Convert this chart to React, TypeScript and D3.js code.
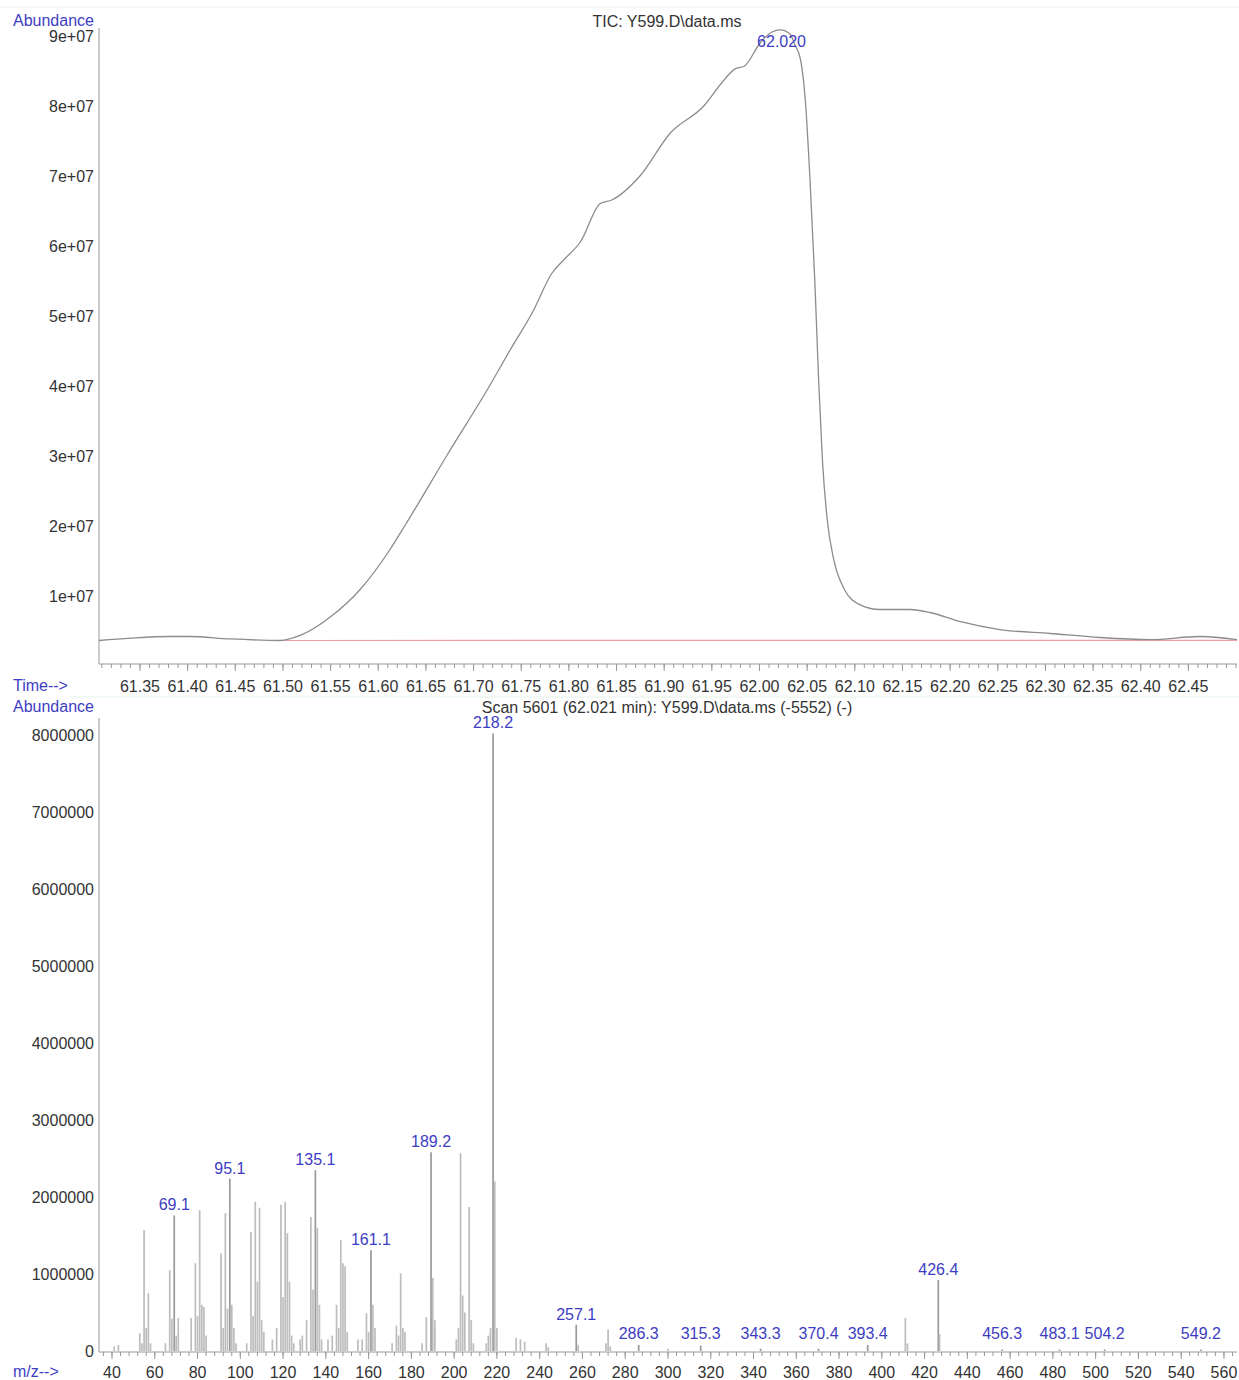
import React, { useEffect, useRef } from 'react';
import * as d3 from 'd3';

const W = 1239;
const H = 1380;
const FONT = 'Liberation Sans, Arial, Helvetica, sans-serif';
const BLUE = '#3d3dc4';
const TXT = '#333';

// TIC trace
const ticTime = [61.307, 61.340, 61.381, 61.402, 61.444, 61.497, 61.518, 61.549, 61.581, 61.612,
    61.628, 61.672, 61.717, 61.738, 61.762, 61.782, 61.795, 61.812, 61.833, 61.845,
    61.875, 61.906, 61.942, 61.959, 61.974, 61.984, 62.001, 62.013, 62.022, 62.032,
    62.037, 62.043, 62.048, 62.053, 62.058, 62.062, 62.066, 62.071, 62.078, 62.089,
    62.105, 62.126, 62.158, 62.179, 62.210, 62.252, 62.305, 62.357, 62.410, 62.462, 62.501];
const ticAbund = [3.57e6, 3.9e6, 4.14e6, 4.14e6, 3.8e6, 3.57e6, 4.3e6, 6.86e6, 1.086e7, 1.65e7,
    2.0e7, 3.0e7, 4.0e7, 4.5e7, 5.05e7, 5.6e7, 5.8e7, 6.05e7, 6.6e7, 6.65e7,
    7.0e7, 7.6e7, 8.0e7, 8.3e7, 8.52e7, 8.56e7, 8.9e7, 9.05e7, 9.08e7, 9.02e7,
    8.87e7, 8.66e7, 8.09e7, 6.94e7, 5.51e7, 4.09e7, 2.94e7, 2.09e7, 1.51e7, 1.09e7,
    8.7e6, 8.0e6, 8.0e6, 7.57e6, 6.29e6, 5.14e6, 4.57e6, 4.0e6, 3.71e6, 4.14e6, 3.71e6];

// integration baseline
const baseTime = [61.497, 62.501];
const baseAbund = [3.57e6, 3.6e6];

const peakTime = 62.020;
const peakLabel = '62.020';

const timeTickLabels = ['61.35', '61.40', '61.45', '61.50', '61.55', '61.60', '61.65', '61.70', '61.75',
    '61.80', '61.85', '61.90', '61.95', '62.00', '62.05', '62.10', '62.15', '62.20', '62.25',
    '62.30', '62.35', '62.40', '62.45'];
const ticYTicks = [1e7, 2e7, 3e7, 4e7, 5e7, 6e7, 7e7, 8e7, 9e7];
const ticYLabels = ['1e+07', '2e+07', '3e+07', '4e+07', '5e+07', '6e+07', '7e+07', '8e+07', '9e+07'];

// mass spectrum, scan 5601
const specMz = [41, 43, 53, 54, 55, 56, 57, 58, 65, 67, 68, 69.1, 70, 71, 77, 79, 80, 81, 82, 83, 84,
    91, 92, 93, 94, 95.1, 96, 97, 98, 103, 105, 106, 107, 108, 109, 110, 111, 115, 117,
    119, 120, 121, 122, 123, 124, 125, 128, 129, 131, 133, 134, 135.1, 136, 137, 138, 141,
    143, 145, 146, 147, 148, 149, 150, 155, 157, 159, 160, 161.1, 162, 163, 171, 173, 174,
    175, 176, 177, 185, 187, 189.2, 190, 191, 201, 202, 203, 204, 205, 207, 208, 209, 215,
    216, 217, 218.2, 219, 220, 229, 231, 233, 243, 244, 257.1, 258, 271, 272, 273, 286.3,
    300, 315.3, 343.3, 370.4, 393.4, 411, 412, 426.4, 427, 456.3, 483.1, 504.2, 549.2];
const specAbund = [60000, 80000, 230000, 100000, 1570000, 300000, 750000, 100000, 100000, 1050000,
    420000, 1760000, 200000, 430000, 430000, 1140000, 450000, 1830000, 600000, 570000, 200000,
    1270000, 300000, 1790000, 550000, 2240000, 600000, 300000, 100000, 100000, 1550000, 450000,
    1940000, 900000, 1860000, 400000, 250000, 150000, 300000,
    1900000, 700000, 1940000, 1530000, 900000, 200000, 100000, 150000, 200000, 400000, 1740000,
    800000, 2350000, 1600000, 600000, 150000, 150000,
    200000, 600000, 300000, 1440000, 1140000, 1100000, 250000, 150000, 150000, 490000, 250000,
    1310000, 600000, 300000, 100000, 330000, 200000,
    1010000, 300000, 250000, 100000, 440000, 2580000, 950000, 400000, 150000, 300000, 2570000,
    720000, 500000, 1870000, 400000, 100000, 100000,
    200000, 300000, 8020000, 2200000, 300000, 170000, 150000, 120000, 100000, 50000, 340000,
    80000, 100000, 280000, 60000, 80000,
    30000, 70000, 30000, 30000, 80000, 430000, 100000, 920000, 220000, 20000, 20000, 20000, 20000];

const labelMz = [69.1, 95.1, 135.1, 161.1, 189.2, 218.2, 257.1, 286.3, 315.3, 343.3, 370.4,
    393.4, 426.4, 456.3, 483.1, 504.2, 549.2];

const mzTicks = [40, 60, 80, 100, 120, 140, 160, 180, 200, 220, 240, 260, 280, 300, 320, 340,
    360, 380, 400, 420, 440, 460, 480, 500, 520, 540, 560];
const specYTicks = [0, 1000000, 2000000, 3000000, 4000000, 5000000, 6000000, 7000000, 8000000];

export default function App() {
    const ref = useRef<SVGSVGElement>(null);

    useEffect(() => {
        const svg = d3.select(ref.current);
        svg.selectAll('*').remove();

        const txt = (x: number, y: number, s: string, anchor = 'start', color = TXT) =>
            svg.append('text')
                .attr('x', x).attr('y', y)
                .attr('text-anchor', anchor)
                .attr('font-family', FONT)
                .attr('font-size', 16)
                .attr('fill', color)
                .text(s);

        // faint frame lines
        svg.append('line').attr('x1', 0).attr('x2', W).attr('y1', 7).attr('y2', 7)
            .attr('stroke', '#eee');
        svg.append('line').attr('x1', 70).attr('x2', W).attr('y1', 697).attr('y2', 697)
            .attr('stroke', '#e4f2e4');

        // ---------- TIC panel ----------
        const x1 = d3.scaleLinear().domain([61.307, 62.501]).range([99, 1237]);
        const y1 = d3.scaleLinear().domain([0, 9e7]).range([665.5, 35.5]);

        svg.append('line').attr('x1', 99).attr('x2', 99).attr('y1', 28).attr('y2', 664)
            .attr('stroke', '#999');
        svg.append('line').attr('x1', 99).attr('x2', 1237).attr('y1', 664).attr('y2', 664)
            .attr('stroke', '#999');

        svg.selectAll('.tminor')
            .data(d3.range(61.31, 62.505, 0.01))
            .enter().append('line')
            .attr('x1', d => x1(d)).attr('x2', d => x1(d))
            .attr('y1', 664).attr('y2', 668)
            .attr('stroke', '#999');

        timeTickLabels.forEach(s => {
            const v = +s;
            svg.append('line').attr('x1', x1(v)).attr('x2', x1(v)).attr('y1', 664).attr('y2', 671)
                .attr('stroke', '#999');
            txt(x1(v), 692, s, 'middle');
        });

        ticYTicks.forEach((v, i) => txt(94, y1(v) + 6, ticYLabels[i], 'end'));

        txt(13, 26, 'Abundance', 'start', BLUE);
        txt(13, 691, 'Time-->', 'start', BLUE);
        txt(667, 27, 'TIC: Y599.D\\data.ms', 'middle');

        const base = d3.line<number>()
            .x((d, i) => x1(baseTime[i]))
            .y(d => y1(d));
        svg.append('path').attr('d', base(baseAbund))
            .attr('fill', 'none').attr('stroke', '#f0a0a8').attr('stroke-width', 1.2);

        const tic = d3.line<number>()
            .x((d, i) => x1(ticTime[i]))
            .y(d => y1(d))
            .curve(d3.curveMonotoneX);
        svg.append('path').attr('d', tic(ticAbund))
            .attr('fill', 'none').attr('stroke', '#8c8c8c').attr('stroke-width', 1.3);

        const pk = ticAbund[ticTime.indexOf(62.022)];
        txt(x1(peakTime) + 3, y1(pk) + 17, peakLabel, 'middle', BLUE);

        // ---------- spectrum panel ----------
        const x2 = d3.scaleLinear().domain([33.92, 566.1]).range([99, 1237]);
        const y2 = d3.scaleLinear().domain([0, 8e6]).range([1351, 735]);

        svg.append('line').attr('x1', 99).attr('x2', 99).attr('y1', 718).attr('y2', 1352)
            .attr('stroke', '#999');
        svg.append('line').attr('x1', 99).attr('x2', 1237).attr('y1', 1352).attr('y2', 1352)
            .attr('stroke', '#999');

        svg.selectAll('.mminor')
            .data(d3.range(36, 566, 4))
            .enter().append('line')
            .attr('x1', d => x2(d)).attr('x2', d => x2(d))
            .attr('y1', 1352).attr('y2', 1356)
            .attr('stroke', '#999');

        mzTicks.forEach(v => {
            svg.append('line').attr('x1', x2(v)).attr('x2', x2(v)).attr('y1', 1352).attr('y2', 1359)
                .attr('stroke', '#999');
            txt(x2(v), 1378, String(v), 'middle');
        });

        specYTicks.forEach(v => txt(94, y2(v) + 6, String(v), 'end'));

        txt(13, 712, 'Abundance', 'start', BLUE);
        txt(13, 1377, 'm/z-->', 'start', BLUE);
        txt(667, 713, 'Scan 5601 (62.021 min): Y599.D\\data.ms (-5552) (-)', 'middle');

        svg.selectAll('.bar')
            .data(specMz)
            .enter().append('line')
            .attr('x1', d => x2(d)).attr('x2', d => x2(d))
            .attr('y1', y2(0))
            .attr('y2', (d, i) => y2(specAbund[i]))
            .attr('stroke', d => labelMz.includes(d) ? '#9a9a9a' : '#bdbdbd')
            .attr('stroke-width', 1.7);

        labelMz.forEach(m => {
            const a = specAbund[specMz.indexOf(m)];
            const y = Math.min(y2(a) - 5, 1339);
            txt(x2(m), y, m.toFixed(1), 'middle', BLUE);
        });
    }, []);

    return (
        <svg ref={ref} width={W} height={H} viewBox={`0 0 ${W} ${H}`}
            style={{ position: 'absolute', left: 0, top: 0, background: '#fff' }} />
    );
}
